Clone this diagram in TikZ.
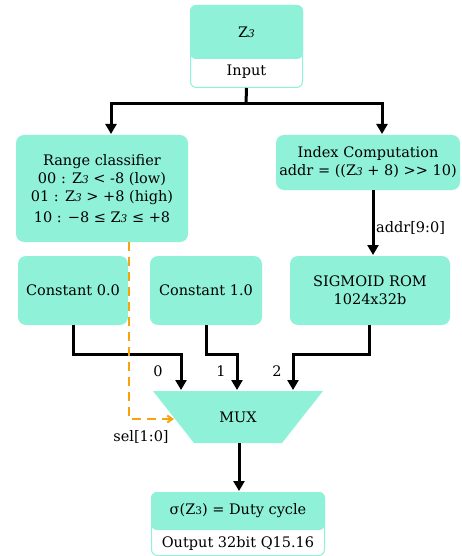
\documentclass[tikz,border=0pt]{standalone}
\usepackage{fontspec}
\setmainfont{DejaVu Serif}
\usetikzlibrary{arrows.meta}
\definecolor{teal1}{HTML}{8FF1D8}
\definecolor{orng}{HTML}{F7A20F}
\newcommand\zthr{Z{\fontsize{10.5}{10}\selectfont\itshape 3}}
\newcommand\zthru{Z{\fontsize{10.5}{10}\selectfont 3}}
\tikzset{
  box/.style={rectangle, rounded corners=8pt, fill=teal1, inner sep=0pt, align=center,
    font=\fontsize{14.5}{18}\selectfont},
  wbox/.style={rectangle, rounded corners=6pt, fill=white, draw=teal1, line width=1pt, inner sep=0pt},
  lbl/.style={inner sep=0pt, font=\fontsize{14.5}{18}\selectfont},
  conn/.style={line width=3pt, -{Triangle[length=10pt,width=11pt]}},
  selconn/.style={orng, line width=2pt, dash pattern=on 9pt off 6pt, -{Straight Barb[length=5pt,width=7pt]}}
}
\begin{document}
\begin{tikzpicture}[x=1pt,y=-1pt]
\useasboundingbox (0,0) rectangle (461,556);
% input
\node[wbox, minimum width=112, minimum height=82] (inp) at (246.5,46.5) {};
\node[box, rounded corners=6pt, minimum width=113, minimum height=54] (inpT) at (246.5,32) {\zthr};
\node[lbl] (inpL) at (246.5,72) {Input};
% range classifier
\node[box, minimum width=172, minimum height=107] (rc) at (102,188.5) {Range classifier\\
00 : \zthr{} < -8 (low)\\
01 : \zthr{} > +8 (high)\\[3pt]
10 : −8 ≤ \zthr{} ≤ +8};
% index computation
\node[box, minimum width=184, minimum height=55] (idx) at (368,162.5) {Index Computation\\addr = ((\zthr{} + 8) >{}> 10)};
% constants and rom
\node[box, minimum width=110, minimum height=69] (c0) at (73,290.5) {Constant 0.0};
\node[box, minimum width=112, minimum height=69] (c1) at (206,290.5) {Constant 1.0};
\node[box, minimum width=160, minimum height=69] (rom) at (370,290.5) {SIGMOID ROM\\1024x32b};
% mux
\fill[teal1] (153,391) -- (323,391) -- (282,443) -- (194,443) -- cycle;
\node[lbl, minimum width=170, minimum height=52] (mux) at (238,417) {MUX};
\coordinate (selin) at (174,419);
% output
\node[wbox, minimum width=173, minimum height=63] (out) at (238,524) {};
\node[box, rounded corners=6pt, minimum width=174, minimum height=38] (outT) at (238,511) {σ(\zthru) = Duty cycle};
\node[lbl] (outL) at (238,543) {Output 32bit Q15.16};
% connectors
\draw[line width=3pt] (inp.south) -- (246,104) coordinate (split);
\draw[conn] (split) -| (111,134);
\draw[conn] (split) -| (382,134);
\draw[conn] (373,190) -- (373,255);
\node[lbl, anchor=west] (addrL) at (376,228) {addr[9:0]};
\draw[conn] (c0.south) |- (181,354) -- (181,390);
\draw[conn] (c1.south) |- (237,354) -- (237,390);
\draw[conn] (369,325) |- (293,354) -- (293,390);
\node[lbl] (l0) at (158,371) {0};
\node[lbl] (l1) at (221,371) {1};
\node[lbl] (l2) at (277,371) {2};
\draw[selconn] (129,242) |- (selin);
\node[lbl] (selL) at (141,437) {sel[1:0]};
\draw[conn] (239,443) -- (239,491);
\end{tikzpicture}
\end{document}
